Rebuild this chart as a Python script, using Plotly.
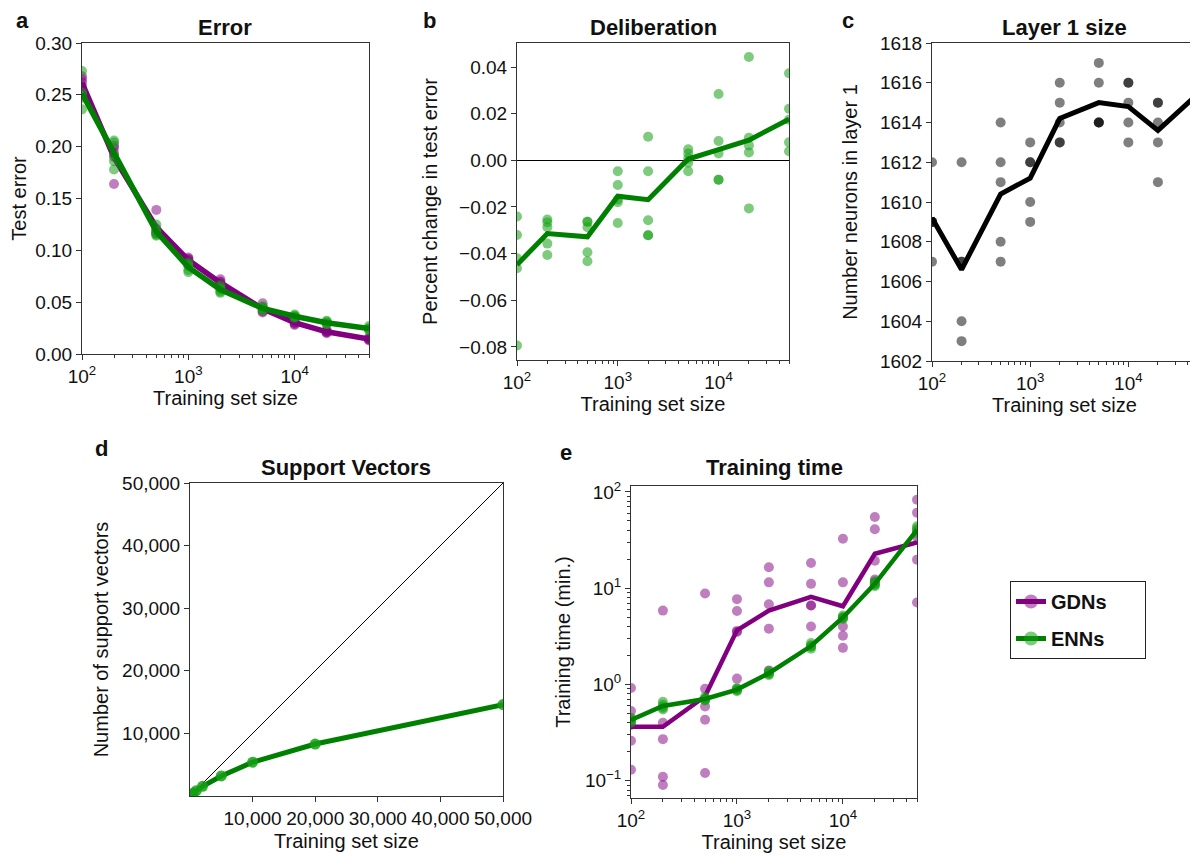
import numpy as np
import plotly.graph_objects as go

# ---------------- data ----------------
sizes = [100, 200, 500, 1000, 2000, 5000, 10000, 20000, 50000]

# panel a: test error, 5 runs per training-set size
error_gdn = [
    [0.268, 0.265, 0.262, 0.258, 0.255],
    [0.201, 0.199, 0.194, 0.190, 0.164],
    [0.139, 0.121, 0.119, 0.117, 0.116],
    [0.093, 0.092, 0.091, 0.089, 0.088],
    [0.072, 0.070, 0.069, 0.067, 0.066],
    [0.049, 0.045, 0.043, 0.041, 0.040],
    [0.033, 0.031, 0.030, 0.029, 0.028],
    [0.023, 0.022, 0.021, 0.021, 0.020],
    [0.016, 0.015, 0.014, 0.014, 0.013],
]
error_enn = [
    [0.273, 0.252, 0.249, 0.247, 0.236],
    [0.206, 0.204, 0.192, 0.186, 0.178],
    [0.125, 0.119, 0.117, 0.115, 0.114],
    [0.088, 0.086, 0.085, 0.081, 0.079],
    [0.066, 0.064, 0.062, 0.060, 0.059],
    [0.046, 0.045, 0.044, 0.043, 0.042],
    [0.038, 0.037, 0.036, 0.036, 0.035],
    [0.032, 0.031, 0.030, 0.029, 0.029],
    [0.027, 0.025, 0.024, 0.024, 0.023],
]

# panel b: percent change in test error (deliberation)
delib = [
    [-0.0241, -0.0320, -0.0420, -0.0463, -0.0794],
    [-0.0254, -0.0266, -0.0287, -0.0357, -0.0406],
    [-0.0263, -0.0263, -0.0287, -0.0394, -0.0433],
    [-0.0047, -0.0106, -0.0168, -0.0180, -0.0269],
    [0.0101, -0.0047, -0.0257, -0.0321, -0.0321],
    [0.0047, 0.0029, 0.0009, -0.0010, -0.0047],
    [0.0284, 0.0083, 0.0029, -0.0083, -0.0083],
    [0.0443, 0.0097, 0.0064, 0.0034, -0.0206],
    [0.0373, 0.0221, 0.0174, 0.0077, 0.0039],
]

# panel c: number of neurons in layer 1
layer1 = [
    [1612, 1609, 1609, 1609, 1607],
    [1612, 1607, 1607, 1604, 1603],
    [1614, 1612, 1611, 1608, 1607],
    [1613, 1612, 1612, 1610, 1609],
    [1616, 1615, 1614, 1613, 1613],
    [1617, 1616, 1614, 1614, 1614],
    [1616, 1616, 1615, 1614, 1613],
    [1615, 1615, 1614, 1613, 1611],
    [1616, 1616, 1616, 1615, 1614],
]

# panel d: number of support vectors
support_vectors = [100, 195, 450, 850, 1550, 3200, 5400, 8300, 14600]
identity = [0, 50000]

# panel e: training time (min.)
time_gdn = [
    [0.92, 0.53, 0.38, 0.26, 0.13],
    [5.85, 0.40, 0.27, 0.11, 0.09],
    [8.8, 0.90, 0.59, 0.43, 0.12],
    [7.7, 5.8, 3.6, 3.5, 1.15],
    [16.5, 11.5, 6.8, 3.8, 1.4],
    [18.3, 11.1, 6.6, 6.6, 4.0],
    [32.7, 11.5, 4.0, 3.2, 2.4],
    [55.0, 41.0, 19.3, 12.3, 11.5],
    [83.0, 61.0, 34.0, 19.8, 7.1],
]
time_enn = [
    [0.45, 0.44, 0.43, 0.42, 0.40],
    [0.66, 0.62, 0.59, 0.57, 0.55],
    [0.74, 0.72, 0.70, 0.69, 0.68],
    [0.92, 0.90, 0.88, 0.87, 0.85],
    [1.38, 1.33, 1.30, 1.28, 1.25],
    [2.70, 2.55, 2.50, 2.45, 2.35],
    [5.2, 5.0, 4.95, 4.9, 4.8],
    [11.9, 11.3, 11.0, 10.8, 10.5],
    [44.0, 42.0, 40.0, 39.0, 37.0],
]

# ---------------- styles ----------------
PURPLE = "#800080"
PURPLE_PT = "rgba(128,0,128,0.5)"
GREEN = "#008000"
GREEN_PT = "rgba(20,160,20,0.55)"
GREY_PT = "rgba(0,0,0,0.5)"
FONT = "Liberation Sans, Arial, sans-serif"
AX = "#333333"
W, H = 1198, 857
OFF = 8  # page body margin offset


def flat(groups):
    xs, ys = [], []
    for s, g in zip(sizes, groups):
        for v in g:
            xs.append(s)
            ys.append(v)
    return xs, ys


def mean(groups):
    return [float(np.mean(g)) for g in groups]


def gmean(groups):
    return [float(10 ** np.mean(np.log10(g))) for g in groups]


fig = go.Figure()


def pts(groups, color, ax, size=10):
    xs, ys = flat(groups)
    fig.add_trace(go.Scatter(x=xs, y=ys, mode="markers", xaxis="x" + ax, yaxis="y" + ax,
                             marker=dict(color=color, size=size, line=dict(width=0)),
                             showlegend=False, hoverinfo="skip"))


def line(ys, color, ax, width=5):
    fig.add_trace(go.Scatter(x=sizes, y=ys, mode="lines", xaxis="x" + ax, yaxis="y" + ax,
                             line=dict(color=color, width=width), showlegend=False))


# panel a
pts(error_gdn, PURPLE_PT, "")
line(mean(error_gdn), PURPLE, "", 5.5)
pts(error_enn, GREEN_PT, "")
line(mean(error_enn), GREEN, "", 5.5)

# panel b
pts(delib, GREEN_PT, "2")
line(mean(delib), GREEN, "2")

# panel c
pts(layer1, GREY_PT, "3")
line(mean(layer1), "black", "3")

# panel d
fig.add_trace(go.Scatter(x=identity, y=identity, mode="lines", xaxis="x4", yaxis="y4",
                         line=dict(color="black", width=1), showlegend=False))
fig.add_trace(go.Scatter(x=sizes, y=support_vectors, mode="lines+markers", xaxis="x4", yaxis="y4",
                         line=dict(color=GREEN, width=5),
                         marker=dict(color="rgba(20,160,20,0.85)", size=11, line=dict(width=0)),
                         showlegend=False))

# panel e
pts(time_gdn, PURPLE_PT, "5")
line(gmean(time_gdn), PURPLE, "5", 4.5)
pts(time_enn, GREEN_PT, "5")
line(gmean(time_enn), GREEN, "5", 4.5)

# legend entries
PAD = "\u00a0" * 6
for name, lc, pc, grp in [("GDNs", PURPLE, PURPLE_PT, "g"), ("ENNs", GREEN, GREEN_PT, "e")]:
    fig.add_trace(go.Scatter(x=[None], y=[None], mode="lines+markers", name="<b>%s</b>%s" % (name, PAD),
                             legendgroup=grp, xaxis="x5", yaxis="y5",
                             line=dict(color=lc, width=5),
                             marker=dict(color=pc, size=14, line=dict(width=0))))


def dom(x0, x1, y0, y1):
    return [(x0 - OFF) / W, (x1 - OFF) / W], [1 - (y1 - OFF) / H, 1 - (y0 - OFF) / H]


def px(x, y):
    return (x - OFF) / W, 1 - (y - OFF) / H


def logminor(lo, hi):
    vals = []
    for e in range(lo, hi):
        for m in range(2, 10):
            vals.append(m * 10 ** e)
    return vals


base = dict(showline=True, linecolor=AX, linewidth=1, mirror=True, ticks="outside",
            ticklen=5, tickcolor=AX, tickwidth=1, showgrid=False, zeroline=False,
            automargin=False,
            tickfont=dict(family=FONT, size=19, color="#111"),
            title_font=dict(family=FONT, size=20, color="#111"))

logx = dict(type="log", range=[2, np.log10(50000)], tickmode="array",
            tickvals=[100, 1000, 10000],
            ticktext=["10<sup>2</sup>", "10<sup>3</sup>", "10<sup>4</sup>"],
            minor=dict(tickmode="array", tickvals=logminor(2, 5), ticks="outside",
                       ticklen=3, tickcolor=AX, showgrid=False),
            title_text="Training set size", title_standoff=1)

xa, ya = dom(82, 369, 43, 354)
xb, yb = dom(517, 789, 43, 360)
xc, yc = dom(932, 1197, 43, 361)
xd, yd = dom(190, 503, 483, 796)
xe, ye = dom(631, 917, 486, 798)

lx, ly = px(1010, 581)

fig.update_layout(
    width=W, height=H, margin=dict(l=0, r=0, t=0, b=0, autoexpand=False),
    paper_bgcolor="white", plot_bgcolor="white",
    font=dict(family=FONT, color="#111"),
    xaxis=dict(base, **logx, domain=xa, anchor="y"),
    yaxis=dict(base, domain=ya, anchor="x", range=[0, 0.30], dtick=0.05, tickformat=".2f",
               title_text="Test error", title_standoff=8),
    xaxis2=dict(base, **logx, domain=xb, anchor="y2"),
    yaxis2=dict(base, domain=yb, anchor="x2", range=[-0.0856, 0.0503], tickmode="array",
                tickvals=[-0.08, -0.06, -0.04, -0.02, 0.0, 0.02, 0.04], tickformat=".2f",
                zeroline=True, zerolinecolor="black", zerolinewidth=1,
                title_text="Percent change in test error", title_standoff=16),
    xaxis3=dict(base, **logx, domain=xc, anchor="y3"),
    yaxis3=dict(base, domain=yc, anchor="x3", range=[1602, 1618], dtick=2,
                title_text="Number neurons in layer 1", title_standoff=16),
    xaxis4=dict(base, domain=xd, anchor="y4", range=[0, 50000], tickmode="array",
                tickvals=[10000, 20000, 30000, 40000, 50000], tickformat=",",
                title_text="Training set size", title_standoff=6),
    yaxis4=dict(base, domain=yd, anchor="x4", range=[0, 50000], tickmode="array",
                tickvals=[10000, 20000, 30000, 40000, 50000], tickformat=",",
                title_text="Number of support vectors", title_standoff=8),
    xaxis5=dict(base, **logx, domain=xe, anchor="y5"),
    yaxis5=dict(base, domain=ye, anchor="x5", type="log", range=[-1.18, 2.062], tickmode="array",
                tickvals=[0.1, 1, 10, 100],
                ticktext=["10<sup>\u22121</sup>", "10<sup>0</sup>", "10<sup>1</sup>", "10<sup>2</sup>"],
                minor=dict(tickmode="array", tickvals=logminor(-2, 2), ticks="outside",
                           ticklen=3, tickcolor=AX, showgrid=False),
                title_text="Training time (min.)", title_standoff=8),
    legend=dict(x=lx, y=ly, xanchor="left", yanchor="top",
                bordercolor="#222", borderwidth=1, bgcolor="white",
                font=dict(family=FONT, size=20, color="#111"), tracegroupgap=8),
    showlegend=True,
)

# titles and panel letters
titles = [("Error", 225, 27), ("Deliberation", 653, 27), ("Layer 1 size", 1064, 27),
          ("Support Vectors", 346, 467), ("Training time", 774, 467)]
for t, x, y in titles:
    ax_, ay_ = px(x, y)
    fig.add_annotation(text="<b>%s</b>" % t, x=ax_, y=ay_, xref="paper", yref="paper",
                       showarrow=False, xanchor="center", yanchor="middle",
                       font=dict(family=FONT, size=22, color="#111"))
letters = [("a", 22, 21), ("b", 429, 21), ("c", 848, 21), ("d", 101, 448), ("e", 566, 452)]
for t, x, y in letters:
    ax_, ay_ = px(x, y)
    fig.add_annotation(text="<b>%s</b>" % t, x=ax_, y=ay_, xref="paper", yref="paper",
                       showarrow=False, xanchor="center", yanchor="middle", borderpad=0,
                       font=dict(family=FONT, size=22, color="#111"))

fig.write_html("out.html")
